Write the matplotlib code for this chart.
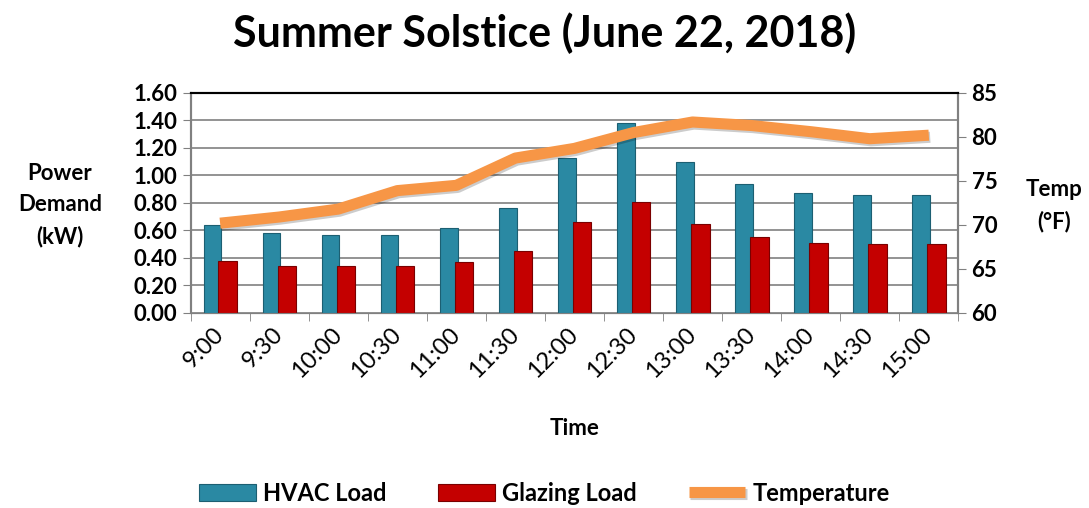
import matplotlib.pyplot as plt
import matplotlib.patheffects as pe
import numpy as np

times = ['9:00', '9:30', '10:00', '10:30', '11:00', '11:30', '12:00',
         '12:30', '13:00', '13:30', '14:00', '14:30', '15:00']
hvac_load = [0.64, 0.58, 0.57, 0.57, 0.62, 0.76, 1.13, 1.38, 1.10, 0.94, 0.87, 0.86, 0.86]
glazing_load = [0.38, 0.34, 0.34, 0.34, 0.37, 0.45, 0.66, 0.81, 0.65, 0.55, 0.51, 0.50, 0.50]
temperature = [70.2, 70.9, 71.8, 73.9, 74.5, 77.6, 78.7, 80.5, 81.7, 81.3, 80.6, 79.8, 80.2]

plt.rcParams['font.family'] = ['Lato', 'DejaVu Sans']
plt.rcParams['font.weight'] = 'bold'

fig = plt.figure(figsize=(10.89, 5.08), dpi=100)
ax = fig.add_axes([0.175, 0.384, 0.705, 0.433])
ax2 = ax.twinx()

x = np.arange(len(times))
w = 0.3
ax.bar(x - 0.13, hvac_load, w, color='#2A89A3', edgecolor='#1C5F72', linewidth=0.8,
       label='HVAC Load', zorder=3)
ax.bar(x + 0.13, glazing_load, w * 1.05, color='#C40000', edgecolor='#7A0000', linewidth=0.8,
       label='Glazing Load', zorder=3)

ax2.plot(x, temperature, color='#F79646', linewidth=8, solid_capstyle='butt',
         label='Temperature', zorder=4,
         path_effects=[pe.SimpleLineShadow(offset=(1, -1.5), alpha=0.2), pe.Normal()])

ax.set_xlim(-0.5, len(times) - 0.5)
ax.set_ylim(0, 1.6)
ax.set_yticks(np.arange(0, 1.61, 0.2))
ax.set_yticklabels([f'{v:.2f}' for v in np.arange(0, 1.61, 0.2)])
ax2.set_ylim(60, 85)
ax2.set_yticks(range(60, 86, 5))

ax.set_xticks(x)
ax.set_xticklabels(times, rotation=45, fontsize=17, fontweight='normal',
                   ha='right', va='center', rotation_mode='anchor')
ax.set_xticks(np.arange(-0.5, len(times), 1), minor=True)
ax.tick_params(axis='x', which='major', length=0, pad=13)
ax.tick_params(axis='x', which='minor', length=6, color='#808080', direction='out')
ax.tick_params(axis='y', labelsize=16, color='#808080', length=6)
ax2.tick_params(axis='y', labelsize=16, color='#808080', length=6)
for lab in ax.get_yticklabels() + ax2.get_yticklabels():
    lab.set_fontweight('bold')

ax.grid(axis='y', color='#808080', linewidth=1.2, zorder=0)
ax.set_axisbelow(True)
for a in (ax, ax2):
    a.spines['top'].set_color('black')
    a.spines['top'].set_linewidth(1.5)
    a.spines['left'].set_color('#808080')
    a.spines['right'].set_color('#808080')
    a.spines['bottom'].set_color('#808080')
    a.spines['left'].set_linewidth(1.5)
    a.spines['right'].set_linewidth(1.5)

ax.set_xlabel('Time', fontsize=16, fontweight='bold', labelpad=26)
fig.text(0.055, 0.596, 'Power\nDemand\n(kW)', ha='center', va='center',
         fontsize=16, fontweight='bold', linespacing=1.6)
fig.text(0.968, 0.596, 'Temp\n(°F)', ha='center', va='center',
         fontsize=16, fontweight='bold', linespacing=1.6)
fig.suptitle('Summer Solstice (June 22, 2018)', fontsize=31, fontweight='bold', y=0.975)

h1, l1 = ax.get_legend_handles_labels()
h2, l2 = ax2.get_legend_handles_labels()
fig.legend(h1 + h2, l1 + l2, loc='lower center', ncol=3, frameon=False,
           bbox_to_anchor=(0.5, -0.035), handlelength=2.4, handletextpad=0.3,
           columnspacing=2.2, prop={'weight': 'bold', 'size': 17})

fig.savefig('out.png', dpi=100)
